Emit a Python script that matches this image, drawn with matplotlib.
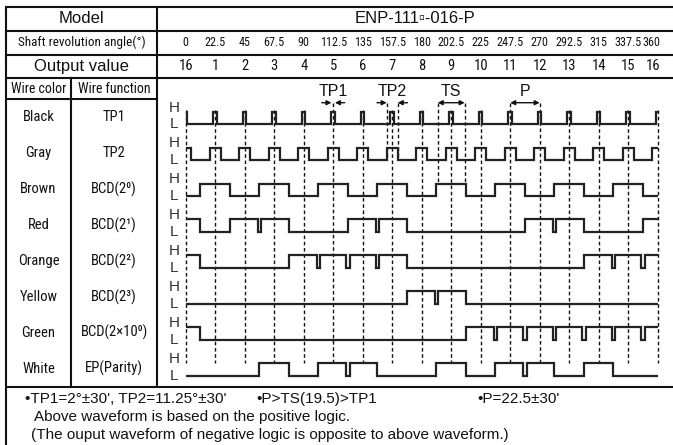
import matplotlib
matplotlib.use("Agg")
import matplotlib.pyplot as plt
import matplotlib.font_manager as fm
from matplotlib.transforms import blended_transform_factory

# ---------------- data ----------------
angles = [0, 22.5, 45, 67.5, 90, 112.5, 135, 157.5, 180, 202.5, 225, 247.5,
          270, 292.5, 315, 337.5, 360]
output_values = [16, 1, 2, 3, 4, 5, 6, 7, 8, 9, 10, 11, 12, 13, 14, 15, 16]

wire_colors = ['Black', 'Gray', 'Brown', 'Red', 'Orange', 'Yellow', 'Green', 'White']
wire_functions = ['TP1', 'TP2', 'BCD(2\u2070)', 'BCD(2\u00b9)', 'BCD(2\u00b2)',
                  'BCD(2\u00b3)', 'BCD(2\u00d710\u2070)', 'EP(Parity)']

# levels per output position (one per angle)
brown_bits  = [0, 1, 0, 1, 0, 1, 0, 1, 0, 1, 0, 1, 0, 1, 0, 1, 0]
red_bits    = [1, 0, 1, 1, 0, 0, 1, 1, 0, 0, 0, 0, 1, 1, 0, 0, 1]
orange_bits = [1, 0, 0, 0, 1, 1, 1, 1, 0, 0, 0, 0, 0, 0, 1, 1, 1]
yellow_bits = [0, 0, 0, 0, 0, 0, 0, 0, 1, 1, 0, 0, 0, 0, 0, 0, 0]
green_bits  = [1, 0, 0, 0, 0, 0, 0, 0, 0, 0, 1, 1, 1, 1, 1, 1, 1]
white_bits  = [0, 0, 0, 1, 0, 1, 1, 0, 0, 1, 0, 1, 1, 0, 1, 0, 0]

TP1_HALF = 1.3      # half width of TP1 pulse (deg, as drawn)
TP2_HALF = 4.2      # half width of TP2 pulse (deg, as drawn)
TS_HALF = 10.3
P_HALF = 11.25
DIP = 1.3

model_name = 'ENP-111\u25ab-016-P'
notes_line1 = ['\u2022TP1=2\u00b0\u00b130\', TP2=11.25\u00b0\u00b130\'',
               '\u2022P>TS(19.5)>TP1', '\u2022P=22.5\u00b130\'']
notes_line2 = 'Above waveform is based on the positive logic.'
notes_line3 = '(The ouput waveform of negative logic is opposite to above waveform.)'

# ---------------- fonts ----------------
avail = {f.name for f in fm.fontManager.ttflist}
NARROW = next((n for n in ['Liberation Sans Narrow', 'Roboto Condensed',
                           'Open Sans Condensed'] if n in avail), None)
plt.rcParams['font.family'] = ['Liberation Sans', 'DejaVu Sans']
if NARROW:
    NFAM = [NARROW, 'Liberation Sans', 'DejaVu Sans']
    NSTR = 'normal'
else:
    NFAM = ['Liberation Sans', 'DejaVu Sans']
    NSTR = 'condensed'
plt.rcParams['lines.scale_dashes'] = False

INK = '#111111'
WAVE = '#222222'

fig = plt.figure(figsize=(6.73, 4.45), dpi=100)
ax = fig.add_axes([0, 0, 1, 1])
ax.set_xlim(0, 673)
ax.set_ylim(445, 0)
ax.axis('off')

# ---------------- table frame (pixel layout) ----------------
X_L, X_C1, X_C2, X_R = 6, 71, 157, 673
Y_TOP, Y_R1, Y_R2, Y_R3, Y_HDR, Y_BOT = 6.7, 30.5, 55, 78, 99.3, 386.7
LW = 1.5
for y in (Y_TOP, Y_R1, Y_R2, Y_R3, Y_BOT):
    ax.plot([X_L, X_R], [y, y], color=INK, lw=LW, solid_capstyle='butt')
ax.plot([X_L, X_C2], [Y_HDR, Y_HDR], color=INK, lw=LW)
ax.plot([X_L, X_L], [Y_TOP, 445], color=INK, lw=LW)
ax.plot([X_C2, X_C2], [Y_TOP, Y_BOT], color=INK, lw=LW)
ax.plot([X_C1, X_C1], [Y_R3, Y_BOT], color=INK, lw=LW)

cx_left = (X_L + X_C2) / 2
ax.text(cx_left, (Y_TOP + Y_R1) / 2, 'Model', ha='center', va='center', fontsize=12, color=INK)
ax.text((X_C2 + X_R) / 2, (Y_TOP + Y_R1) / 2, model_name, ha='center', va='center',
        fontsize=12, color=INK)
ax.text(cx_left, (Y_R1 + Y_R2) / 2, 'Shaft revolution angle(\u00b0)', ha='center', va='center',
        fontsize=9.5, family=NFAM, fontstretch=NSTR, color=INK)
ax.text(cx_left, (Y_R2 + Y_R3) / 2, 'Output value', ha='center', va='center', fontsize=12, color=INK)
ax.text((X_L + X_C1) / 2, (Y_R3 + Y_HDR) / 2, 'Wire color', ha='center', va='center',
        fontsize=10, family=NFAM, fontstretch=NSTR, color=INK)
ax.text((X_C1 + X_C2) / 2, (Y_R3 + Y_HDR) / 2, 'Wire function', ha='center', va='center',
        fontsize=10, family=NFAM, fontstretch=NSTR, color=INK)

ROW_H = (Y_BOT - Y_HDR) / len(wire_colors)
for i, (c, f) in enumerate(zip(wire_colors, wire_functions)):
    yc = Y_HDR + ROW_H * (i + 0.5)
    ax.text((X_L + X_C1) / 2, yc, c, ha='center', va='center', fontsize=10.5,
            family=NFAM, fontstretch=NSTR, color=INK)
    ax.text((X_C1 + X_C2) / 2, yc, f, ha='center', va='center', fontsize=10.5,
            family=NFAM, fontstretch=NSTR, color=INK)
    ax.text(174, Y_HDR + ROW_H * (i + 0.23), 'H', ha='center', va='center', fontsize=11, color='#333')
    ax.text(174, Y_HDR + ROW_H * (i + 0.69), 'L', ha='center', va='center', fontsize=11, color='#333')

# notes
NFS = 11
ax.text(25, 399, notes_line1[0], ha='left', va='center', fontsize=NFS, color=INK)
ax.text(256, 399, notes_line1[1], ha='left', va='center', fontsize=NFS, color=INK)
ax.text(477, 399, notes_line1[2], ha='left', va='center', fontsize=NFS, color=INK)
ax.text(34, 417, notes_line2, ha='left', va='center', fontsize=NFS, color=INK)
ax.text(31, 435, notes_line3, ha='left', va='center', fontsize=NFS, color=INK)

# ---------------- waveform axes ----------------
PX0, PX360 = 185.7, 657.7
dpp = 360.0 / (PX360 - PX0)
W = fig.add_axes([X_C2 / 673, (445 - Y_BOT) / 445, (X_R - X_C2) / 673, (Y_BOT - Y_HDR) / 445])
W.set_xlim(-(PX0 - X_C2) * dpp, 360 + (X_R - PX360) * dpp)
W.set_ylim(len(wire_colors), 0)
W.axis('off')
W.patch.set_alpha(0)

HI, LO = 0.345, 0.69
STEP = angles[1] - angles[0]


def bcd_wave(bits):
    xs, ys = [angles[0]], [bits[0]]
    for k in range(1, len(bits)):
        b = angles[k] - STEP / 2
        if bits[k - 1] and bits[k]:
            xs += [b - DIP, b + DIP]
            ys += [0, 1]
        elif bits[k] != bits[k - 1]:
            xs.append(b)
            ys.append(bits[k])
    xs.append(angles[-1])
    ys.append(ys[-1])
    return xs, ys


def pulse_wave(half):
    xs, ys = [], []
    for a in angles:
        lo, hi = max(a - half, angles[0]), min(a + half, angles[-1])
        xs += [lo, hi]
        ys += [1, 0]
    ys[-1] = 1
    return xs, ys


waves = [pulse_wave(TP1_HALF), pulse_wave(TP2_HALF), bcd_wave(brown_bits),
         bcd_wave(red_bits), bcd_wave(orange_bits), bcd_wave(yellow_bits),
         bcd_wave(green_bits), bcd_wave(white_bits)]

DASH = (0, (2.6, 1.9))
ARROW_Y = 0.095
ext_idx = {5, 11, 12}
for k, a in enumerate(angles):
    y0 = ARROW_Y if k in ext_idx else 0.30
    W.plot([a, a], [y0, 7.33], color=INK, lw=1.0, ls=DASH, zorder=1)

for i, (xs, ys) in enumerate(waves):
    yy = [i + (HI if v else LO) for v in ys]
    W.plot(xs, yy, drawstyle='steps-post', color=WAVE, lw=1.6, zorder=3,
           solid_joinstyle='miter', solid_capstyle='butt')

# angle / output value labels
bt = blended_transform_factory(W.transData, ax.transData)
n = len(angles)
for k, (a, v) in enumerate(zip(angles, output_values)):
    last = (k == n - 1)
    ha = 'right' if last else 'center'
    dx = 2.0 if last else 0
    ax.annotate(f'{a:g}', xy=(a, (Y_R1 + Y_R2) / 2), xycoords=bt, xytext=(dx, 0),
                textcoords='offset points', ha=ha, va='center', fontsize=8.7,
                family=NFAM, fontstretch=NSTR, color=INK)
    ax.annotate(f'{v}', xy=(a, (Y_R2 + Y_R3) / 2), xycoords=bt, xytext=(dx, 0),
                textcoords='offset points', ha=ha, va='center', fontsize=10.5,
                family=NFAM, fontstretch=NSTR, color=INK)

# timing annotations
LABEL_Y = -0.23
ap_in = dict(arrowstyle='-|>', color=INK, lw=1.0, mutation_scale=7, shrinkA=0, shrinkB=0)
ap_both = dict(arrowstyle='<|-|>', color=INK, lw=1.0, mutation_scale=7, shrinkA=0, shrinkB=0)

annotations = [('TP1', angles[5], TP1_HALF, 'in'),
               ('TP2', angles[7], TP2_HALF, 'in'),
               ('TS', angles[9], TS_HALF, 'span'),
               ('P', (angles[11] + angles[12]) / 2, P_HALF, 'span')]
for name, c, h, kind in annotations:
    W.text(c, LABEL_Y, name, ha='center', va='center', fontsize=11.5, color=INK, clip_on=False)
    if kind == 'in':
        W.annotate('', xy=(c - h, ARROW_Y), xytext=(-7, 0), textcoords='offset points',
                   arrowprops=ap_in)
        W.annotate('', xy=(c + h, ARROW_Y), xytext=(7, 0), textcoords='offset points',
                   arrowprops=ap_in)
    else:
        W.annotate('', xy=(c - h, ARROW_Y), xytext=(c + h, ARROW_Y), arrowprops=ap_both)

# extra edge lines for TP2 and TS
for c, h, ybot in [(angles[7], TP2_HALF, 1 + LO), (angles[9], TS_HALF, 2 + HI)]:
    for e in (c - h, c + h):
        W.plot([e, e], [ARROW_Y, ybot], color=INK, lw=1.0, ls=DASH, zorder=1)

fig.savefig('out.png', dpi=100)
